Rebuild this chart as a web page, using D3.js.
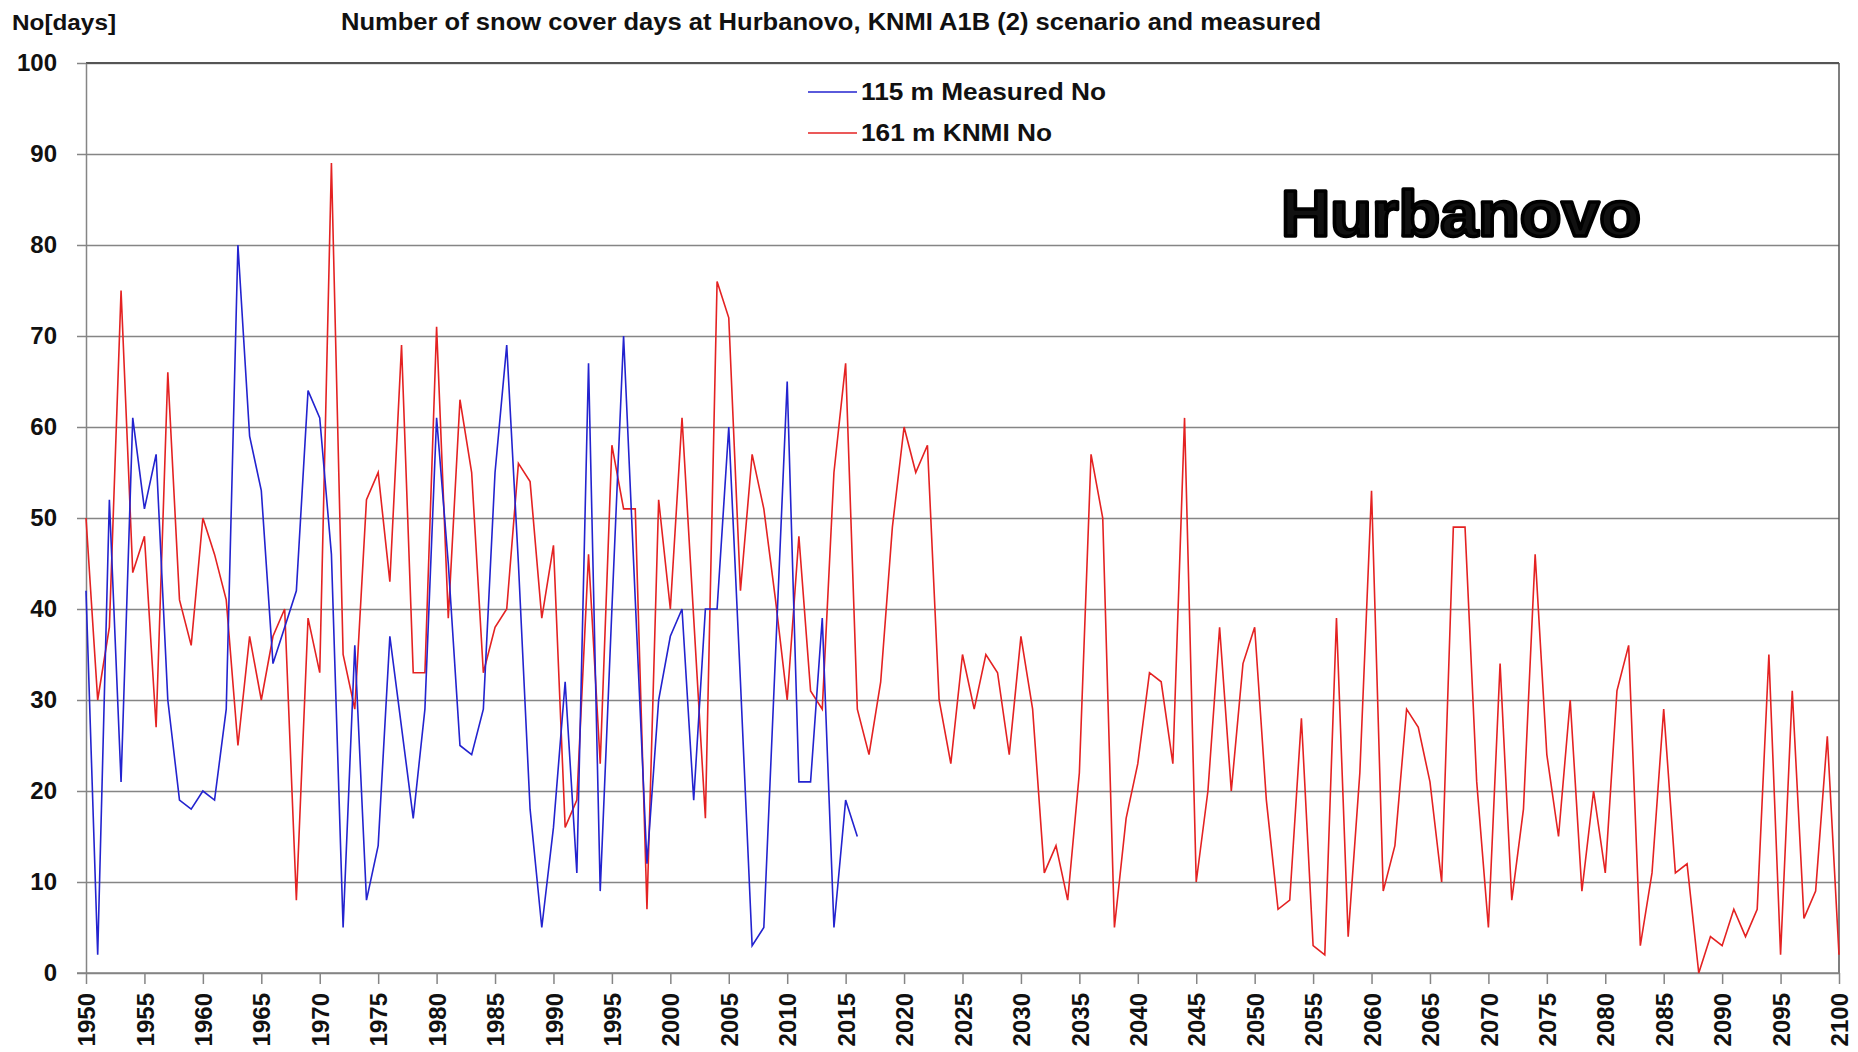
<!DOCTYPE html>
<html>
<head>
<meta charset="utf-8">
<script src="https://cdn.jsdelivr.net/npm/d3@7/dist/d3.min.js"></script>
<style>
  body { margin: 0; background: #fff; }
  .main-graph text { font-family: "Liberation Sans", Arial, sans-serif; font-weight: bold; fill: #111; }
</style>
</head>
<body>
<div class="main-graph"></div>
<script>
// data
var firstYear = 1950;

// measured snow cover days, 1950-2016
var measuredDays = [42, 2, 52, 21, 61, 51, 57, 30, 19, 18,
                    20, 19, 29, 80, 59, 53, 34, 38, 42, 64,
                    61, 46, 5, 36, 8, 14, 37, 27, 17, 29,
                    61, 45, 25, 24, 29, 55, 69, 45, 18, 5,
                    16, 32, 11, 67, 9, 40, 70, 41, 12, 30,
                    37, 40, 19, 40, 40, 60, 32, 3, 5, 35,
                    65, 21, 21, 39, 5, 19, 15];

// KNMI A1B scenario, 1950-2100
var knmiDays = [50, 30, 38, 75, 44, 48, 27, 66, 41, 36,
                50, 46, 41, 25, 37, 30, 37, 40, 8, 39,
                33, 89, 35, 29, 52, 55, 43, 69, 33, 33,
                71, 39, 63, 55, 33, 38, 40, 56, 54, 39,
                47, 16, 19, 46, 23, 58, 51, 51, 7, 52,
                40, 61, 39, 17, 76, 72, 42, 57, 51, 41,
                30, 48, 31, 29, 55, 67, 29, 24, 32, 49,
                60, 55, 58, 30, 23, 35, 29, 35, 33, 24,
                37, 29, 11, 14, 8, 22, 57, 50, 5, 17,
                23, 33, 32, 23, 61, 10, 20, 38, 20, 34,
                38, 19, 7, 8, 28, 3, 2, 39, 4, 22,
                53, 9, 14, 29, 27, 21, 10, 49, 49, 21,
                5, 34, 8, 18, 46, 24, 15, 30, 9, 20,
                11, 31, 36, 3, 11, 29, 11, 12, 0, 4,
                3, 7, 4, 7, 35, 2, 31, 6, 9, 26,
                2];

var yTicks = [0, 10, 20, 30, 40, 50, 60, 70, 80, 90, 100];
var xTicks = d3.range(1950, 2101, 5);

var seriesNames = ["115 m Measured No", "161 m KNMI No"];
var seriesColors = ["#2323cf", "#e42222"];

var margin = {top: 63, right: 19, bottom: 79, left: 86},
    width = 1858 - margin.left - margin.right,
    height = 1052 - margin.top - margin.bottom;

var root = d3.select(".main-graph")
            .append("svg")
            .attr("width", width + margin.left + margin.right)
            .attr("height", height + margin.top + margin.bottom);

var svg = root.append("g")
            .attr("transform", "translate(" + margin.left + "," + margin.top + ")");

// titles
root.append("text")
    .attr("x", 12).attr("y", 30)
    .style("font-size", "22px")
    .attr("textLength", 104).attr("lengthAdjust", "spacingAndGlyphs")
    .text("No[days]");

root.append("text")
    .attr("x", 341).attr("y", 30)
    .style("font-size", "23px")
    .attr("textLength", 980).attr("lengthAdjust", "spacingAndGlyphs")
    .text("Number of snow cover days at Hurbanovo, KNMI A1B (2) scenario and measured");

var x = d3.scaleLinear()
          .domain([1950, 2100])
          .range([0, width]);

var y = d3.scaleLinear()
          .domain([0, 100])
          .range([height, 0]);

// grid lines
svg.append("g")
   .call(d3.axisLeft(y).tickValues(yTicks).tickSize(-width).tickFormat(""))
   .call(g => g.select(".domain").remove())
   .call(g => g.selectAll("line").attr("stroke", "#858585").attr("stroke-width", 1.5));

// frame top + right
svg.append("line")
   .attr("x1", 0).attr("x2", width).attr("y1", y(100)).attr("y2", y(100))
   .attr("stroke", "#555").attr("stroke-width", 2);
svg.append("line")
   .attr("x1", width).attr("x2", width).attr("y1", y(100)).attr("y2", y(0))
   .attr("stroke", "#555").attr("stroke-width", 1.5);

// Y axis
svg.append("g")
   .call(d3.axisLeft(y).tickValues(yTicks).tickSize(9).tickPadding(20).tickSizeOuter(0))
   .call(g => g.selectAll("line").attr("stroke", "#858585").attr("stroke-width", 1.5))
   .call(g => g.select(".domain").attr("stroke", "#858585").attr("stroke-width", 1.5))
   .call(g => g.selectAll("text").style("font-size", "24px").attr("fill", "#111"));

// X axis
svg.append("g")
   .attr("transform", "translate(0," + height + ")")
   .call(d3.axisBottom(x).tickValues(xTicks).tickSize(11).tickSizeOuter(0).tickFormat(d3.format("d")))
   .call(g => g.select(".domain").attr("d", "M-9,0H" + width).attr("stroke", "#858585").attr("stroke-width", 1.5))
   .call(g => g.selectAll("line").attr("stroke", "#858585").attr("stroke-width", 1.5))
   .call(g => g.selectAll("text")
               .style("font-size", "24px")
               .attr("fill", "#111")
               .attr("transform", "rotate(-90)")
               .attr("x", -20).attr("y", 0).attr("dy", "0.36em")
               .style("text-anchor", "end"));

var measuredData = measuredDays.map((v, i) => ({year: firstYear + i, point: v}));
var knmiData = knmiDays.map((v, i) => ({year: firstYear + i, point: v}));

var line = d3.line()
             .x(d => x(d.year))
             .y(d => y(d.point));

svg.append("path")
   .attr("d", line(knmiData))
   .attr("fill", "none")
   .attr("stroke", seriesColors[1])
   .attr("stroke-width", 1.6);

svg.append("path")
   .attr("d", line(measuredData))
   .attr("fill", "none")
   .attr("stroke", seriesColors[0])
   .attr("stroke-width", 1.6);

// legend
var legendWidths = [245, 191];
var legend = root.append("g");
seriesNames.forEach(function(name, i){
    var ly = 92 + i * 41;
    legend.append("line")
          .attr("x1", 808).attr("x2", 857).attr("y1", ly).attr("y2", ly)
          .attr("stroke", seriesColors[i]).attr("stroke-width", 1.6);
    legend.append("text")
          .attr("x", 861).attr("y", ly + 8)
          .style("font-size", "24px")
          .attr("textLength", legendWidths[i]).attr("lengthAdjust", "spacingAndGlyphs")
          .text(name);
});

// station label
root.append("text")
    .attr("x", 1281).attr("y", 236)
    .style("font-family", "'Liberation Sans', Arial, sans-serif")
    .style("font-weight", "bold")
    .style("font-size", "64px")
    .attr("fill", "#000")
    .attr("stroke", "#000").attr("stroke-width", 3.5).attr("stroke-linejoin", "round")
    .attr("textLength", 360).attr("lengthAdjust", "spacingAndGlyphs")
    .text("Hurbanovo");
</script>
</body>
</html>
